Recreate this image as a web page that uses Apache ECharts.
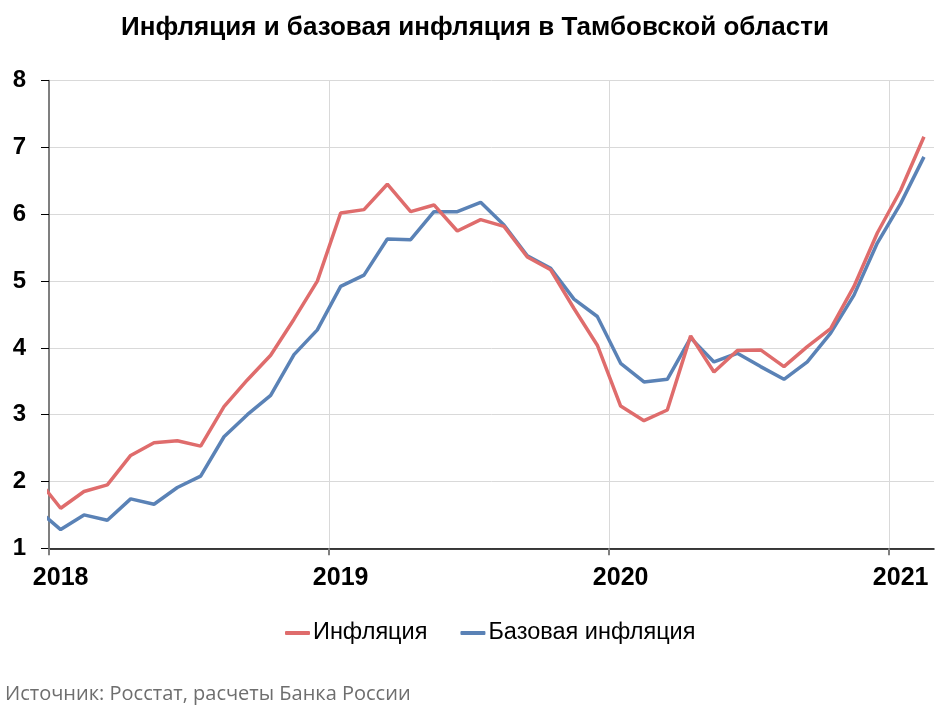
<!DOCTYPE html>
<html>
<head>
<meta charset="utf-8">
<script src="https://cdn.jsdelivr.net/npm/echarts@6/dist/echarts.min.js"></script>
<style>
html,body{margin:0;padding:0;background:#fff;}
#chart{width:950px;height:712px;}
</style>
</head>
<body>
<div id="chart"></div>
<script>
// Months (mid-month observations); Dec 2017 point is partly clipped by the axis
const months = ['2017-12',
  '2018-01','2018-02','2018-03','2018-04','2018-05','2018-06','2018-07','2018-08','2018-09','2018-10','2018-11','2018-12',
  '2019-01','2019-02','2019-03','2019-04','2019-05','2019-06','2019-07','2019-08','2019-09','2019-10','2019-11','2019-12',
  '2020-01','2020-02','2020-03','2020-04','2020-05','2020-06','2020-07','2020-08','2020-09','2020-10','2020-11','2020-12',
  '2021-01','2021-02'];
const inflation = [2.04,
  1.60,1.85,1.95,2.39,2.58,2.61,2.53,3.12,3.52,3.89,4.43,5.00,
  6.02,6.07,6.45,6.04,6.14,5.75,5.92,5.82,5.36,5.17,4.59,4.04,
  3.13,2.91,3.07,4.18,3.64,3.96,3.97,3.72,4.02,4.29,4.92,5.72,
  6.36,7.16];
const coreInflation = [1.58,
  1.28,1.50,1.42,1.74,1.66,1.91,2.08,2.67,3.00,3.29,3.90,4.27,
  4.92,5.09,5.63,5.62,6.04,6.04,6.18,5.84,5.38,5.19,4.73,4.47,
  3.77,3.49,3.53,4.15,3.79,3.92,3.72,3.53,3.79,4.22,4.79,5.57,
  6.16,6.86];
const yearLabels = ['2018','2019','2020','2021'];
const seriesNames = ['Инфляция','Базовая инфляция'];
const titleText = 'Инфляция и базовая инфляция в Тамбовской области';
const sourceText = 'Источник: Росстат, расчеты Банка России';

// month index from Jan 2018, placed at mid-month
function mx(m){ const [y,mo]=m.split('-').map(Number); return (y-2018)*12+(mo-1)+0.5; }
function mstart(m){ const [y,mo]=m.split('-').map(Number); return (y-2018)*12+(mo-1); }
const infData = months.map((m,i)=>[mx(m), inflation[i]]);
const coreData = months.map((m,i)=>[mx(m), coreInflation[i]]);
const labelPos = yearLabels.map((y)=>mx(y+'-01'));
const tickPos = yearLabels.map((y)=>mstart(y+'-01'));

const chart = echarts.init(document.getElementById('chart'), null, {renderer:'canvas'});
chart.setOption({
  animation:false,
  backgroundColor:'#fff',
  title:{
    text:titleText, left:'center', top:10,
    textStyle:{fontFamily:'Liberation Sans, Arial, sans-serif', fontWeight:'bold', fontSize:26, color:'#000'}
  },
  legend:{
    data:seriesNames, left:280, top:616, itemGap:33, itemWidth:25, itemHeight:4, icon:'roundRect',
    textStyle:{fontFamily:'Liberation Sans, Arial, sans-serif', fontSize:23.5, color:'#000', padding:[0,0,0,-2]}
  },
  graphic:[{
    type:'text', left:5, top:684,
    style:{text:sourceText, fontFamily:'Open Sans, sans-serif', fontSize:20, fill:'#6e6e6e'}
  }],
  grid:{left:49, right:16, top:80.7, bottom:163.7, containLabel:false},
  xAxis:{
    type:'value', min:0, max:37.93, interval:12,
    axisLine:{show:true, onZero:false, lineStyle:{color:'#000', width:1.5}},
    axisTick:{show:true, customValues:tickPos, length:7, lineStyle:{color:'#7f7f7f', width:2}},
    splitLine:{show:true, lineStyle:{color:'#d9d9d9', width:1}},
    axisLabel:{
      customValues:labelPos, margin:17,
      formatter:(v)=>String(2018+Math.floor(v/12)),
      fontFamily:'Liberation Sans, Arial, sans-serif', fontWeight:'bold', fontSize:25, color:'#000'
    }
  },
  yAxis:{
    type:'value', min:1, max:8, interval:1,
    axisLine:{show:true, lineStyle:{color:'#7f7f7f', width:2}},
    axisTick:{show:true, length:8, lineStyle:{color:'#000', width:1}},
    splitLine:{show:true, lineStyle:{color:'#d9d9d9', width:1}},
    axisLabel:{margin:23, fontFamily:'Liberation Sans, Arial, sans-serif', fontWeight:'bold', fontSize:24, color:'#000'}
  },
  series:[
    {name:seriesNames[0], type:'line', data:infData, showSymbol:false, symbol:'none', clip:true,
     lineStyle:{color:'#DF6C6C', width:3.5}, itemStyle:{color:'#DF6C6C'}, z:3},
    {name:seriesNames[1], type:'line', data:coreData, showSymbol:false, symbol:'none', clip:true,
     lineStyle:{color:'#5A82B6', width:3.5}, itemStyle:{color:'#5A82B6'}, z:2}
  ]
});
</script>
</body>
</html>
